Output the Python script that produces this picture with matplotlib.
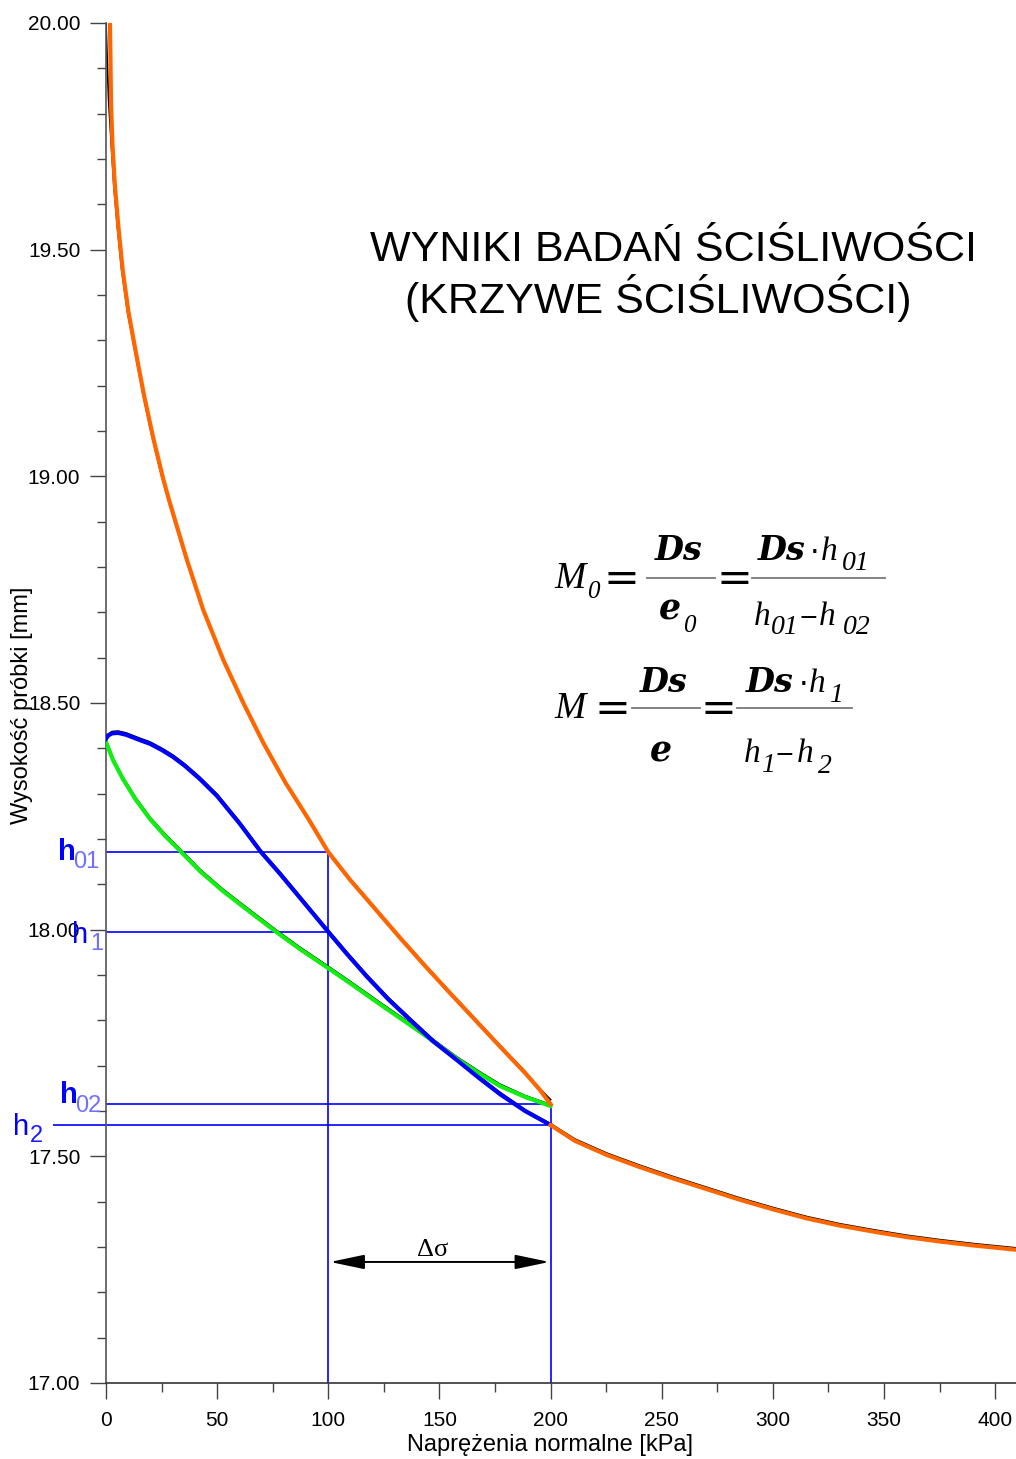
import numpy as np
import matplotlib
matplotlib.use("Agg")
import matplotlib.pyplot as plt
from matplotlib.lines import Line2D
from matplotlib.ticker import MultipleLocator, FormatStrFormatter

plt.rcParams["font.family"] = ["Liberation Sans", "DejaVu Sans"]

# loading curve 0-200 kPa (fitted, orange)
load_x = [1.8, 2.02, 2.25, 2.92, 4.05, 5.62, 7.51, 10.12, 13.5, 17.1, 21.15,
          25.65, 28.35, 36.45, 43.78, 52.78, 61.78, 70.78, 80.76, 91.34,
          100.0, 109.79, 121.03, 132.28, 143.53, 154.78, 166.03, 177.28,
          188.53, 195.28, 200.0]
load_y = [19.996, 19.918, 19.824, 19.731, 19.638, 19.548, 19.455, 19.362,
          19.272, 19.179, 19.087, 18.996, 18.948, 18.815, 18.705, 18.595,
          18.5, 18.412, 18.324, 18.242, 18.171, 18.11, 18.046, 17.982,
          17.92, 17.86, 17.801, 17.742, 17.684, 17.646, 17.615]
# measured loading points (black)
meas_load_x = [0.0, 0.5, 1.2, 2.3, 3.5, 5.1, 7.0, 9.6, 13.0, 16.6, 20.6,
               25.1, 27.8, 35.9, 43.3, 52.3, 61.3, 70.3, 80.3, 90.9, 99.6,
               109.5, 120.8, 132.0, 143.3, 154.5, 165.8, 177.0, 188.3, 195.0,
               200.0]
meas_load_y = [20.0, 19.92, 19.83, 19.74, 19.645, 19.552, 19.459, 19.366,
               19.276, 19.183, 19.091, 19.0, 18.952, 18.819, 18.709, 18.599,
               18.504, 18.416, 18.328, 18.246, 18.176, 18.114, 18.05, 17.986,
               17.924, 17.864, 17.805, 17.746, 17.688, 17.65, 17.625]

# unloading 200 -> 0 kPa (green)
unload_x = [0.0, 3.15, 7.65, 13.5, 19.8, 26.55, 33.3, 42.29, 52.64, 64.79,
            76.04, 87.29, 100.0, 109.79, 121.93, 132.28, 142.63, 157.93,
            168.28, 177.28, 188.53, 200.0]
unload_y = [18.414, 18.374, 18.332, 18.286, 18.244, 18.207, 18.174, 18.129,
            18.085, 18.039, 17.997, 17.957, 17.915, 17.882, 17.84, 17.805,
            17.77, 17.715, 17.682, 17.655, 17.631, 17.611]
meas_unload_y = [18.418, 18.378, 18.336, 18.29, 18.248, 18.211, 18.178,
                 18.133, 18.089, 18.043, 18.001, 17.961, 17.919, 17.886,
                 17.844, 17.809, 17.774, 17.719, 17.686, 17.659, 17.634,
                 17.614]

# reloading 0 -> 200 kPa (blue)
reload_x = [0.0, 0.9, 2.7, 5.4, 9.0, 15.3, 19.8, 25.2, 30.15, 35.55, 42.29,
            49.94, 60.29, 69.74, 78.29, 87.29, 100.0, 108.44, 117.44, 126.88,
            136.78, 147.13, 157.93, 168.28, 177.28, 188.53, 200.0]
reload_y = [18.421, 18.428, 18.433, 18.434, 18.43, 18.418, 18.41, 18.396,
            18.381, 18.361, 18.332, 18.295, 18.233, 18.171, 18.123, 18.07,
            17.995, 17.946, 17.896, 17.847, 17.801, 17.754, 17.712, 17.671,
            17.637, 17.6, 17.569]
meas_reload_y = [18.419, 18.431, 18.437, 18.438, 18.434, 18.422, 18.414,
                 18.4, 18.385, 18.365, 18.336, 18.299, 18.237, 18.175, 18.127,
                 18.074, 17.999, 17.95, 17.9, 17.851, 17.805, 17.758, 17.716,
                 17.675, 17.641, 17.603, 17.572]

# loading beyond 200 kPa (orange)
load2_x = [200.0, 211.0, 225.3, 240.3, 255.3, 270.0, 285.3, 300.1, 315.3,
           330.3, 345.2, 360.0, 375.3, 391.0, 409.4]
load2_y = [17.569, 17.534, 17.503, 17.476, 17.451, 17.428, 17.404, 17.383,
           17.363, 17.347, 17.334, 17.322, 17.312, 17.303, 17.294]
meas_load2_y = [17.572, 17.538, 17.507, 17.48, 17.455, 17.432, 17.408,
                17.387, 17.367, 17.351, 17.338, 17.326, 17.316, 17.307,
                17.298]

# construction levels
h01, h1, h02, h2 = 18.171, 17.995, 17.615, 17.569
s1, s2 = 100, 200

W, H = 1016, 1459
fig = plt.figure(figsize=(W / 100, H / 100), dpi=100)
ax = fig.add_axes([106 / W, 76 / H, 910 / W, 1360 / H])
ax.set_xlim(0, 409.4)
ax.set_ylim(17.0, 20.0)

thin = dict(color="#0000ff", lw=1.2, zorder=1, solid_capstyle="butt")
ax.plot([0, s1], [h01, h01], **thin)
ax.plot([0, s1], [h1, h1], **thin)
ax.plot([0, s2], [h02, h02], **thin)
ax.plot([-23.8, s2], [h2, h2], clip_on=False, **thin)
ax.plot([s1, s1], [17.0, h01], **thin)
ax.plot([s2, s2], [17.0, h02], **thin)

ax.plot(meas_load_x, meas_load_y, color="black", lw=1.3, zorder=2)
ax.plot(unload_x, meas_unload_y, color="black", lw=1.3, zorder=2)
ax.plot(reload_x, meas_reload_y, color="black", lw=1.3, zorder=2)
ax.plot(load2_x, meas_load2_y, color="black", lw=1.3, zorder=2)

ax.plot(unload_x, unload_y, color="#11ee11", lw=3.0, zorder=3)
ax.plot(reload_x, reload_y, color="#0000ff", lw=3.0, zorder=4)
ax.plot(load_x, load_y, color="#ff6600", lw=3.0, zorder=5)
ax.plot(load2_x, load2_y, color="#ff6600", lw=3.0, zorder=5)

# delta sigma arrow
ax.annotate("", xy=(100.8, 17.267), xytext=(199.5, 17.267),
            arrowprops=dict(arrowstyle="<|-|>,head_length=1.05,head_width=0.22",
                            mutation_scale=20, color="black", lw=1.4,
                            shrinkA=0, shrinkB=0))
ax.text(147.0, 17.293, "Δσ", ha="center", va="center", fontsize=19,
        family=["Liberation Serif", "DejaVu Serif"])


# h labels
def hlab(x, yb, xs, ysb, sub, bold, subcol):
    ax.text(x, yb, "h", color="#0000ff", fontsize=21, va="baseline",
            ha="left", fontweight="bold" if bold else "normal", clip_on=False)
    ax.text(xs, ysb, sub, color=subcol, fontsize=17, va="baseline",
            ha="left", clip_on=False)


hlab(-21.6, 18.154, -14.8, 18.136, "01", True, "#7070ff")
hlab(-15.3, 17.970, -7.2, 17.955, "1", False, "#7070ff")
hlab(-20.7, 17.618, -13.9, 17.598, "02", True, "#7070ff")
hlab(-41.8, 17.547, -34.2, 17.532, "2", False, "#1a1aff")

# axes styling
for s in ["top", "right"]:
    ax.spines[s].set_visible(False)
ax.spines["left"].set_color("#555555")
ax.spines["bottom"].set_color("#333333")
ax.spines["left"].set_linewidth(1.2)
ax.spines["bottom"].set_linewidth(1.2)
ax.xaxis.set_major_locator(MultipleLocator(50))
ax.xaxis.set_minor_locator(MultipleLocator(25))
ax.yaxis.set_major_locator(MultipleLocator(0.5))
ax.yaxis.set_minor_locator(MultipleLocator(0.1))
ax.yaxis.set_major_formatter(FormatStrFormatter("%.2f"))
ax.tick_params(which="major", length=11.5, width=1.0, color="#444444",
               labelsize=15, pad=7)
ax.tick_params(which="minor", length=6.2, width=1.0, color="#444444")
ax.tick_params(axis="x", which="major", pad=9)

fig.text(22 / W, 1 - 705 / H, "Wysokość próbki [mm]", rotation=90,
         ha="center", va="center", fontsize=17)
fig.text(550 / W, 1 - 1445 / H, "Naprężenia normalne [kPa]",
         ha="center", va="center", fontsize=17)

# title
fig.text(370 / W, 1 - 250 / H, "WYNIKI BADAŃ ŚCIŚLIWOŚCI", ha="left",
         va="center", fontsize=31)
fig.text(405 / W, 1 - 298 / H, "(KRZYWE ŚCIŚLIWOŚCI)", ha="left",
         va="center", fontsize=31)


# formulas, set piece by piece (pixel positions)
SERIF = "Liberation Serif"
BOLDF = "DejaVu Serif"


def ft(s, cx, by, size, bold=False, italic=True, fam=SERIF):
    fig.text(cx / W, 1 - by / H, s, ha="center", va="baseline",
             fontsize=size, family=fam,
             style="italic" if italic else "normal",
             fontweight="bold" if bold else "normal")


def sym(s, cx, cy, size):
    # operator glyph centred on the math axis
    ft(s, cx, cy + 0.3 * size * 100 / 72, size, italic=False,
       fam="DejaVu Sans")


def bar(x0, x1, y):
    fig.add_artist(Line2D([x0 / W, x1 / W], [1 - y / H, 1 - y / H],
                          transform=fig.transFigure, color="#777777",
                          lw=1.3))


# M0 = Ds/e0 = Ds*h01/(h01-h02)
ft("M", 570.5, 588, 27)
ft("0", 593.5, 598, 18)
sym("=", 621.5, 578, 31)
bar(647, 715, 578)
ft("Ds", 678.5, 560, 24, bold=True, fam=BOLDF)
ft("e", 670, 619, 25, bold=True, fam=BOLDF)
ft("0", 689, 632, 18)
sym("=", 734, 578, 31)
bar(752, 885, 578)
ft("Ds", 782, 560, 24, bold=True, fam=BOLDF)
sym("·", 815, 553, 22)
ft("h", 829, 560, 24)
ft("01", 856, 570, 20)
ft("h", 762.5, 625, 24)
ft("01", 785, 634, 20)
sym("−", 808.5, 618, 17)
ft("h", 827.5, 625, 24)
ft("02", 857, 634, 20)

# M = Ds/e = Ds*h1/(h1-h2)
ft("M", 570, 718, 27)
sym("=", 612.5, 708, 31)
bar(632, 700, 708)
ft("Ds", 663.5, 692, 24, bold=True, fam=BOLDF)
ft("e", 661, 762, 25, bold=True, fam=BOLDF)
sym("=", 718, 708, 31)
bar(737, 852, 708)
ft("Ds", 769.5, 692, 24, bold=True, fam=BOLDF)
sym("·", 803.5, 685, 22)
ft("h", 817, 692, 24)
ft("1", 836, 702, 20)
ft("h", 752, 762, 24)
ft("1", 767.5, 772, 20)
sym("−", 784.5, 755, 17)
ft("h", 805, 762, 24)
ft("2", 824.5, 773, 20)

fig.savefig("out.png", dpi=100)
